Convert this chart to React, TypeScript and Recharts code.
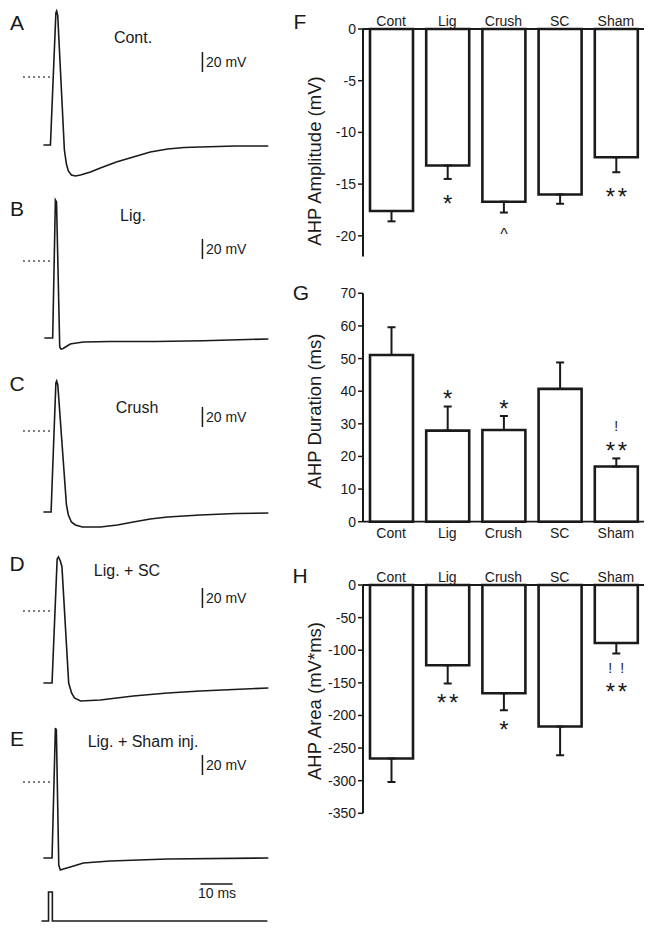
import React from "react";
import {
  LineChart,
  Line,
  XAxis,
  YAxis,
  ReferenceLine,
  BarChart,
  Bar,
  ErrorBar,
  LabelList,
} from "recharts";

const FONT = '"Liberation Sans", Arial, Helvetica, sans-serif';
const INK = "#1a1a1a";

// ---- example recordings: time (ms) and membrane potential (mV, 0 = dotted line) ----
const contT = [0, 2.2, 3.9, 4.15, 4.47, 6.56, 7.19, 7.8, 8.75, 10, 11.6, 14.7, 17.8, 22.8, 28.1, 33.4, 38.8, 44, 49, 60, 70.3];
const contV = [-68, -68, 64, 66, 62, -73, -87, -94, -98, -99, -98, -95, -91, -85, -80, -75, -72, -70.5, -70, -69, -69];

const ligT = [0.3, 2.9, 3.75, 4.1, 5.1, 5.5, 6.2, 6.9, 8.4, 10.3, 12.6, 20.9, 35, 50, 70.3];
const ligV = [-77, -77, 61, 59, -86, -88, -87.5, -86, -83, -82, -81, -80.5, -80.5, -79.7, -78];

const crushT = [0, 2.4, 3.9, 4.15, 4.5, 7.2, 7.8, 8.75, 10, 12.2, 17.8, 23.1, 28.1, 33.4, 38.8, 49, 60, 70.3];
const crushV = [-81, -81, 48, 50, 46, -74, -84, -91, -94, -96, -96, -94, -91, -88, -86, -84, -82.5, -82];

const scT = [0, 2.7, 4.3, 4.7, 5.3, 5.8, 7.9, 8.8, 9.7, 11.6, 17.8, 28.1, 38.8, 49, 70.3];
const scV = [-72, -72, 52, 54, 50, 44, -72, -82, -87, -90, -89, -85, -82, -80, -77];

const shamT = [0, 2.7, 3.75, 4.05, 4.8, 5.3, 6.25, 8.4, 12.5, 20.9, 38.8, 70.3];
const shamV = [-76, -76, 54, 52, -83, -88, -87, -85, -81, -79, -77, -76];

// stimulus pulse (arbitrary units)
const stimT = [-0.6, 1.6, 1.6, 2.8, 2.8, 70];
const stimI = [0, 0, 1, 1, 0, 0];

// ---- group summaries ----
const groups = ["Cont", "Lig", "Crush", "SC", "Sham"];

const ampMean = [-17.6, -13.2, -16.7, -16.0, -12.4];
const ampErr = [1.0, 1.3, 1.05, 0.9, 1.45];
const ampStars = ["", "*", "^", "", "**"];
const ampBangs = ["", "", "", "", ""];
const ampTicks = [0, -5, -10, -15, -20];

const durMean = [51.1, 27.9, 28.1, 40.7, 16.9];
const durErr = [8.5, 7.4, 4.3, 8.1, 2.5];
const durStars = ["", "*", "*", "", "**"];
const durBangs = ["", "", "", "", "!"];
const durTicks = [0, 10, 20, 30, 40, 50, 60, 70];

const areaMean = [-266, -123, -166, -217, -89];
const areaErr = [36, 28, 26, 44, 16];
const areaStars = ["", "**", "*", "", "**"];
const areaBangs = ["", "", "", "", "! !"];
const areaTicks = [0, -50, -100, -150, -200, -250, -300, -350];

// trace geometry
const T_MIN = -7;
const T_MAX = 71.125;
const TRACE_LEFT = 20.6;
const TRACE_W = 250;
const PX_PER_MV = 1;
const BAR_T = 49.7; // where the 20 mV bar sits

function Txt({ x, y, size, children, anchor = "middle", rotate = false }: any) {
  const tx = anchor === "middle" ? "-50%" : anchor === "start" ? "0" : "-100%";
  return (
    <div
      style={{
        position: "absolute",
        left: x,
        top: y,
        transform: `translate(${tx}, -50%)${rotate ? " rotate(-90deg)" : ""}`,
        fontFamily: FONT,
        fontSize: size,
        lineHeight: 1,
        color: INK,
        whiteSpace: "nowrap",
      }}
    >
      {children}
    </div>
  );
}

function Trace({ t, v, top, height, vTop, barTop, title, titleX, titleY }: any) {
  const data = t.map((x: number, i: number) => ({ t: x, v: v[i] }));
  return (
    <>
      <div style={{ position: "absolute", left: TRACE_LEFT, top }}>
        <LineChart width={TRACE_W} height={height} data={data} margin={{ top: 0, right: 0, bottom: 0, left: 0 }}>
          <XAxis type="number" dataKey="t" domain={[T_MIN, T_MAX]} hide />
          <YAxis type="number" domain={[vTop - height / PX_PER_MV, vTop]} hide />
          <ReferenceLine
            segment={[{ x: -6.3, y: 0 }, { x: 3.1, y: 0 }]}
            stroke={INK}
            strokeWidth={1.4}
            strokeDasharray="1.5 3.5"
          />
          <ReferenceLine
            segment={[{ x: BAR_T, y: barTop }, { x: BAR_T, y: barTop - 20 }]}
            stroke={INK}
            strokeWidth={1.5}
          />
          <Line dataKey="v" type="linear" stroke={INK} strokeWidth={1.6} dot={false} isAnimationActive={false} />
        </LineChart>
      </div>
      <Txt x={titleX} y={titleY} size={16}>{title}</Txt>
      <Txt x={206} y={top + (vTop - barTop + 10) * PX_PER_MV} size={14} anchor="start">20 mV</Txt>
    </>
  );
}

function glyphs(txt: string, cx: number, cy: number, key: string) {
  const chars = txt.replace(/ /g, "").split("");
  return chars.map((c, k) => {
    const x = cx + (k - (chars.length - 1) / 2) * 12;
    const size = c === "*" ? 24 : c === "^" ? 16 : 14;
    const lift = c === "*" ? 0.58 : c === "^" ? 0.52 : 0.36;
    return (
      <text key={key + k} x={x} y={cy + size * lift} textAnchor="middle" fontSize={size} fontFamily={FONT} fill={INK}>
        {c}
      </text>
    );
  });
}

// significance marks sit just past the end of each error bar
function sigMarks(means: number[], errs: number[], stars: string[], bangs: string[], gaps: number[], bangsFirst: boolean) {
  return (props: any) => {
    const i = props.index;
    const vb = props.viewBox ?? props;
    const star = stars[i];
    const bang = bangs[i];
    if (!star && !bang) return null;
    const h = Math.abs(vb.height);
    const y0 = Math.min(vb.y, vb.y + vb.height);
    const perUnit = h / Math.abs(means[i]);
    const dir = means[i] < 0 ? 1 : -1;
    const end = dir > 0 ? y0 + h + errs[i] * perUnit : y0 - errs[i] * perUnit;
    const cx = vb.x + vb.width / 2;
    const near = end + dir * gaps[0];
    const far = end + dir * gaps[1];
    let starY = near;
    let bangY = far;
    if (bang && bangsFirst) {
      bangY = near;
      starY = far;
    }
    return (
      <g>
        {star ? glyphs(star, cx, starY, "s" + i) : null}
        {bang ? glyphs(bang, cx, bangY, "b" + i) : null}
      </g>
    );
  };
}

function BarPanel({ top, height, margin, means, errs, domain, ticks, xTop, stars, bangs, gaps, bangsFirst }: any) {
  const data = groups.map((g, i) => ({
    name: g,
    mean: means[i],
    err: means[i] < 0 ? [errs[i], 0] : [0, errs[i]],
  }));
  const tickStyle = { fill: INK, fontSize: 14, fontFamily: FONT };
  return (
    <div style={{ position: "absolute", left: 300, top }}>
      <BarChart width={354} height={height} data={data} margin={margin}>
        <XAxis
          dataKey="name"
          orientation={xTop ? "top" : "bottom"}
          height={20}
          tickLine={false}
          tickSize={0}
          tickMargin={xTop ? 3 : 6}
          interval={0}
          axisLine={{ stroke: INK, strokeWidth: 1.8 }}
          tick={tickStyle}
        />
        <YAxis
          type="number"
          width={63}
          domain={domain}
          ticks={ticks}
          interval={0}
          tickSize={5}
          tickMargin={2}
          tickLine={{ stroke: INK, strokeWidth: 1.5 }}
          axisLine={{ stroke: INK, strokeWidth: 2 }}
          tick={tickStyle}
        />
        <Bar dataKey="mean" fill="#ffffff" stroke={INK} strokeWidth={2.6} barSize={43} isAnimationActive={false}>
          <ErrorBar dataKey="err" direction="y" width={4} stroke={INK} strokeWidth={2} isAnimationActive={false} />
          <LabelList dataKey="name" content={sigMarks(means, errs, stars, bangs, gaps, bangsFirst)} />
        </Bar>
      </BarChart>
    </div>
  );
}

export default function App() {
  const stimData = stimT.map((t, i) => ({ t, i: stimI[i] }));
  return (
    <div style={{ position: "absolute", left: 0, top: 0, width: 654, height: 933, background: "#fff", overflow: "hidden" }}>
      {/* panel letters */}
      <Txt x={17} y={22} size={21}>A</Txt>
      <Txt x={17} y={208} size={21}>B</Txt>
      <Txt x={17} y={383} size={21}>C</Txt>
      <Txt x={17} y={563} size={21}>D</Txt>
      <Txt x={17} y={738} size={21}>E</Txt>
      <Txt x={300} y={21} size={21}>F</Txt>
      <Txt x={301} y={292} size={21}>G</Txt>
      <Txt x={300} y={575} size={21}>H</Txt>

      {/* recordings */}
      <Trace t={contT} v={contV} top={0} height={190} vTop={77} barTop={25} title="Cont." titleX={133} titleY={38} />
      <Trace t={ligT} v={ligV} top={190} height={180} vTop={71} barTop={22} title="Lig." titleX={133} titleY={216} />
      <Trace t={crushT} v={crushV} top={370} height={180} vTop={61} barTop={24} title="Crush" titleX={137} titleY={408} />
      <Trace t={scT} v={scV} top={550} height={180} vTop={61} barTop={23} title="Lig. + SC" titleX={127} titleY={571} />
      <Trace t={shamT} v={shamV} top={722} height={150} vTop={60} barTop={27} title="Lig. + Sham inj." titleX={143} titleY={742} />

      {/* stimulus + time scale */}
      <div style={{ position: "absolute", left: TRACE_LEFT, top: 880 }}>
        <LineChart width={TRACE_W} height={50} data={stimData} margin={{ top: 0, right: 0, bottom: 0, left: 0 }}>
          <XAxis type="number" dataKey="t" domain={[T_MIN, T_MAX]} hide />
          <YAxis type="number" domain={[-9 / 29, 41 / 29]} hide />
          <ReferenceLine segment={[{ x: 49.1, y: 1.276 }, { x: 59.1, y: 1.276 }]} stroke={INK} strokeWidth={1.5} />
          <Line dataKey="i" type="linear" stroke={INK} strokeWidth={1.6} dot={false} isAnimationActive={false} />
        </LineChart>
      </div>
      <Txt x={217} y={893} size={14}>10 ms</Txt>

      {/* summary bars */}
      <BarPanel
        top={0}
        height={270}
        margin={{ top: 9, right: 10, bottom: 13.5, left: 0 }}
        means={ampMean}
        errs={ampErr}
        domain={[-22, 0]}
        ticks={ampTicks}
        xTop
        stars={ampStars}
        bangs={ampBangs}
        gaps={[19, 38]}
        bangsFirst={false}
      />
      <BarPanel
        top={280}
        height={270}
        margin={{ top: 13.3, right: 10, bottom: 8.3, left: 0 }}
        means={durMean}
        errs={durErr}
        domain={[0, 70]}
        ticks={durTicks}
        xTop={false}
        stars={durStars}
        bangs={durBangs}
        gaps={[13, 32]}
        bangsFirst={false}
      />
      <BarPanel
        top={555}
        height={270}
        margin={{ top: 10, right: 10, bottom: 11.7, left: 0 }}
        means={areaMean}
        errs={areaErr}
        domain={[-350, 0]}
        ticks={areaTicks}
        xTop
        stars={areaStars}
        bangs={areaBangs}
        gaps={[14, 33]}
        bangsFirst
      />

      <Txt x={315} y={161} size={18.5} rotate>AHP Amplitude (mV)</Txt>
      <Txt x={315} y={411} size={18.5} rotate>AHP Duration (ms)</Txt>
      <Txt x={315} y={701} size={18.5} rotate>AHP Area (mV*ms)</Txt>
    </div>
  );
}
